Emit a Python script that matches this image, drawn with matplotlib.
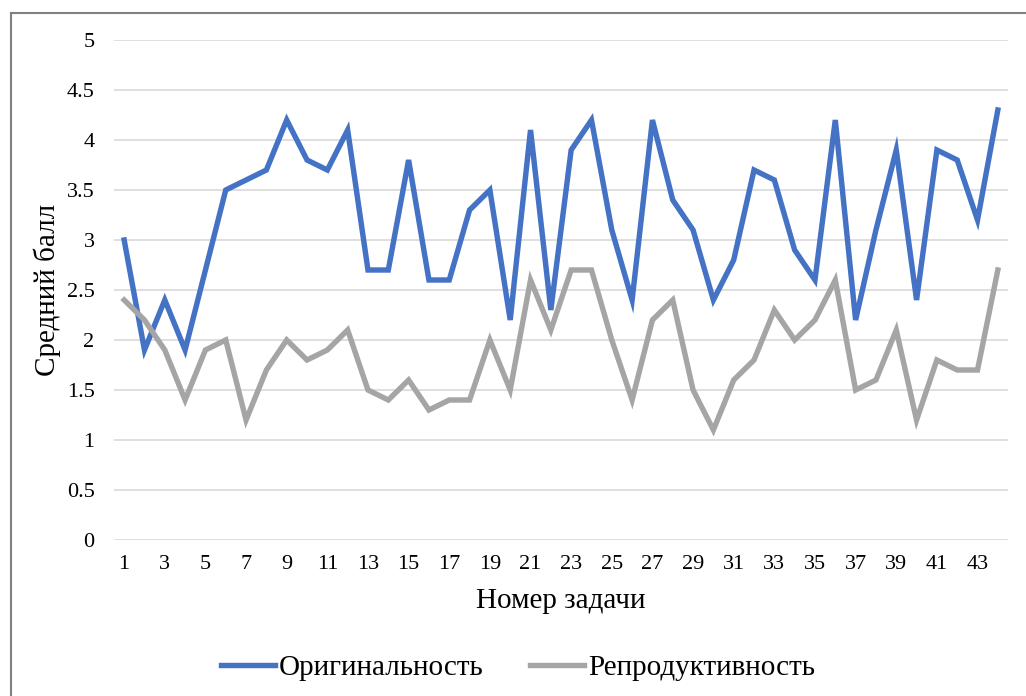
import matplotlib
matplotlib.use("Agg")
import matplotlib.pyplot as plt
from matplotlib.lines import Line2D

tasks = list(range(1, 45))
originality = [3.0, 1.9, 2.4, 1.9, 2.7, 3.5, 3.6, 3.7, 4.2, 3.8, 3.7, 4.1, 2.7, 2.7, 3.8,
               2.6, 2.6, 3.3, 3.5, 2.2, 4.1, 2.3, 3.9, 4.2, 3.1, 2.4, 4.2, 3.4, 3.1, 2.4,
               2.8, 3.7, 3.6, 2.9, 2.6, 4.2, 2.2, 3.1, 3.9, 2.4, 3.9, 3.8, 3.2, 4.3]
reproductivity = [2.4, 2.2, 1.9, 1.4, 1.9, 2.0, 1.2, 1.7, 2.0, 1.8, 1.9, 2.1, 1.5, 1.4, 1.6,
                  1.3, 1.4, 1.4, 2.0, 1.5, 2.6, 2.1, 2.7, 2.7, 2.0, 1.4, 2.2, 2.4, 1.5, 1.1,
                  1.6, 1.8, 2.3, 2.0, 2.2, 2.6, 1.5, 1.6, 2.1, 1.2, 1.8, 1.7, 1.7, 2.7]
yticks = [0, 0.5, 1, 1.5, 2, 2.5, 3, 3.5, 4, 4.5, 5]
ytick_labels = ["0", "0.5", "1", "1.5", "2", "2.5", "3", "3.5", "4", "4.5", "5"]
series_names = ["Оригинальность", "Репродуктивность"]

plt.rcParams['font.family'] = ['Liberation Serif', 'DejaVu Serif']

fig = plt.figure(figsize=(10.26, 6.96), dpi=100)
ax = fig.add_axes([114/1026, 1-540/696, (1008-114)/1026, 500/696])

blue = "#4472C4"
gray = "#A5A5A5"
ax.plot(tasks, originality, color=blue, lw=3.9, solid_joinstyle='miter', label=series_names[0])
ax.plot(tasks, reproductivity, color=gray, lw=3.9, solid_joinstyle='miter', label=series_names[1])

ax.set_xlim(0.5, 44.5)
ax.set_ylim(0, 5)
ax.set_yticks(yticks)
ax.set_yticklabels(ytick_labels)
ax.set_xticks(tasks[::2])
ax.set_xticklabels([str(t) for t in tasks[::2]])
ax.yaxis.grid(True, color="#D9D9D9", lw=1.2)
ax.set_axisbelow(True)
for s in ax.spines.values():
    s.set_visible(False)
ax.tick_params(axis='both', length=0, labelsize=16, colors="#000000")
ax.tick_params(axis='y', pad=14)
ax.tick_params(axis='x', pad=11)

ax.set_xlabel("Номер задачи", fontsize=21, labelpad=10)
ax.set_ylabel("Средний балл", fontsize=21, labelpad=4)

handles = [Line2D([0], [0], color=blue, lw=3.9), Line2D([0], [0], color=gray, lw=3.9)]
fig.legend(handles, series_names, loc='center', bbox_to_anchor=(0.505, 1-668/696),
           ncol=2, frameon=False, fontsize=21, handlelength=1.85, handletextpad=0.15,
           columnspacing=1.6)

# partial frame (top and left) as in reference
fig.add_artist(Line2D([11/1026, 11/1026], [0, 1-13/696], color="#808080", lw=1.5, transform=fig.transFigure))
fig.add_artist(Line2D([11/1026, 1], [1-13/696, 1-13/696], color="#808080", lw=1.5, transform=fig.transFigure))

fig.savefig("out.png", dpi=100)
